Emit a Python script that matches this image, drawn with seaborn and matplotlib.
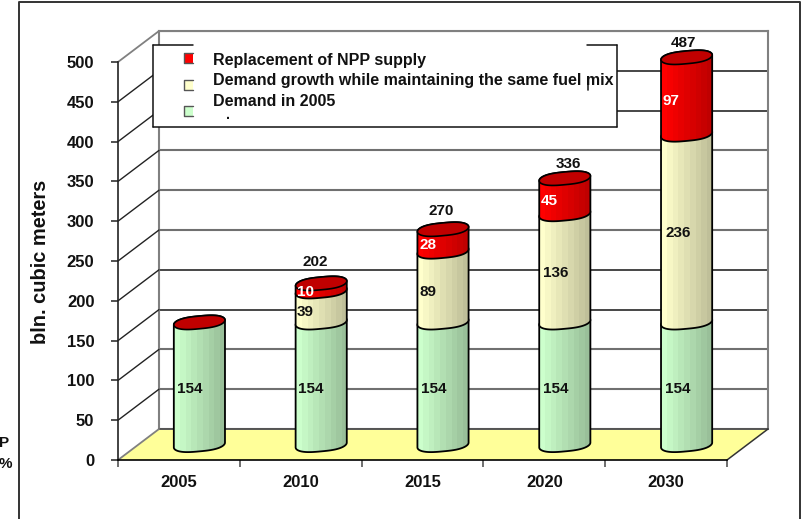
# Gas demand chart: fake 3D stacked cylinders on a seaborn barplot

import numpy as np
import pandas as pd
import matplotlib
matplotlib.use("Agg")
import matplotlib.pyplot as plt
import seaborn as sns
from matplotlib.lines import Line2D
from matplotlib.patches import Polygon, Rectangle

# -----------------------------------------
# Data
# -----------------------------------------
years = ["2005", "2010", "2015", "2020", "2030"]
demand_2005 = [154, 154, 154, 154, 154]
demand_growth = [0, 39, 89, 136, 236]
npp_replacement = [0, 10, 28, 45, 97]
total_labels = ["", "202", "270", "336", "487"]
y_ticks = [0, 50, 100, 150, 200, 250, 300, 350, 400, 450, 500]
legend_names = ["Replacement of NPP supply",
                "Demand growth while maintaining the same fuel mix",
                "Demand in 2005"]

W, H = 802, 519
sns.set_theme(style="white")
plt.rcParams["font.family"] = ["Liberation Sans", "DejaVu Sans"]

fig = plt.figure(figsize=(W / 100, H / 100), dpi=100)


def fx(x):
    return x / W


def fy(y):
    return 1 - y / H


# front plane of the box in pixels
LEFT, RIGHT, BASE, TOP = 118, 727, 460, 62
DEPTH_X, DEPTH_Y = 41, 31
BAR_X, BAR_Y = 20.5, 15
pos = [fx(LEFT), fy(BASE), (RIGHT - LEFT) / W, (BASE - TOP) / H]

# -----------------------------------------
# Back wall, front axis and the bar axes
# -----------------------------------------
wall = fig.add_axes([pos[0] + DEPTH_X / W, pos[1] + DEPTH_Y / H, pos[2], pos[3]], zorder=0)
ax = fig.add_axes(pos, zorder=2)
bars = fig.add_axes([pos[0] + BAR_X / W, pos[1] + BAR_Y / H, pos[2], pos[3]], zorder=4)

for a in (wall, ax, bars):
    a.patch.set_alpha(0)
    a.set_xlim(-0.5, 4.5)
    a.set_ylim(0, 500)

wall.set_xticks([])
wall.set_yticks(y_ticks)
wall.set_yticklabels([])
wall.tick_params(length=0)
wall.grid(axis="y")
# the scan of the original leaves some grid lines grey and some black
grey_lines = [0, 50, 100, 250, 300, 350, 500]
for v, line in zip(y_ticks, wall.yaxis.get_gridlines()):
    if v in grey_lines:
        line.set_color("#707070")
        line.set_linewidth(1.5)
    else:
        line.set_color("#151515")
        line.set_linewidth(1.1)
for side in wall.spines:
    wall.spines[side].set_color("#808080")
    wall.spines[side].set_linewidth(1.5)
wall.spines["bottom"].set_visible(False)

ax.set_yticks(y_ticks)
ax.set_xticks(np.arange(-0.5, 5, 1))
ax.set_xticklabels([])
ax.set_xticks(range(5), years, minor=True, fontsize=12, fontweight="bold", color="#111111")
ax.tick_params(axis="x", which="major", length=5, width=1.2, color="#555555", bottom=True)
ax.tick_params(axis="x", which="minor", length=0, pad=11, bottom=False)
ax.tick_params(axis="y", length=5, width=1.2, color="#333333", left=True, pad=12,
               labelsize=12, labelcolor="#111111")
for label in ax.get_yticklabels():
    label.set_fontweight("bold")
ax.spines["top"].set_visible(False)
ax.spines["right"].set_visible(False)
ax.spines["left"].set_color("#222222")
ax.spines["bottom"].set_color("black")
ax.spines["left"].set_linewidth(1.2)
ax.spines["bottom"].set_linewidth(1.2)
ax.set_ylabel("bln. cubic meters", fontsize=14.4, fontweight="bold", color="#111111")
ax.yaxis.set_label_coords((50 - LEFT) / (RIGHT - LEFT), (BASE - 262) / (BASE - TOP))

# floor
floor = Polygon([(fx(LEFT), fy(BASE)), (fx(RIGHT), fy(BASE)),
                 (fx(RIGHT + DEPTH_X), fy(BASE - DEPTH_Y)), (fx(LEFT + DEPTH_X), fy(BASE - DEPTH_Y))],
                closed=True, transform=fig.transFigure, facecolor="#FFFF99", edgecolor="none", zorder=1)
fig.add_artist(floor)
fig.add_artist(Line2D([fx(LEFT + DEPTH_X), fx(RIGHT + DEPTH_X)], [fy(BASE - DEPTH_Y)] * 2,
                      color="#555555", lw=1.4, zorder=1))
fig.add_artist(Line2D([fx(RIGHT), fx(RIGHT + DEPTH_X)], [fy(BASE), fy(BASE - DEPTH_Y)],
                      color="#333333", lw=1.1, zorder=1))

# diagonals on the left side wall
for v in y_ticks:
    y_px = BASE - (BASE - TOP) * v / 500
    top_tick = v == y_ticks[-1] or v == 0
    fig.add_artist(Line2D([fx(LEFT), fx(LEFT + DEPTH_X)], [fy(y_px), fy(y_px - DEPTH_Y)],
                          color="#808080" if top_tick else "#222222", lw=1.3 if top_tick else 1, zorder=1))

# -----------------------------------------
# Stacked bars, drawn by seaborn and then dressed as cylinders
# -----------------------------------------
df = pd.DataFrame({"year": years, "green": demand_2005, "yellow": demand_growth, "red": npp_replacement})
base_colors = {"green": (0.8, 1.0, 0.8), "yellow": (1.0, 1.0, 0.8), "red": (1.0, 0.0, 0.0)}

bottoms = np.zeros(5)
shade = np.linspace(1, 0.75, 9)[:, None]
t = np.linspace(0, 2 * np.pi, 241)
SQUARE = 0.7
B, S = 8.0, 3.0  # ellipse half height and tilt in data units
z = 10
tops = np.array(demand_2005) + np.array(demand_growth) + np.array(npp_replacement)


def ring(cx, cy, half, angles):
    c = np.cos(angles)
    ux = np.sign(c) * np.abs(c) ** SQUARE
    return cx + half * ux, cy + B * np.sin(angles) + S * ux


for name in ["green", "yellow", "red"]:
    sns.barplot(data=df, x="year", y=name, bottom=bottoms, order=years, color=base_colors[name],
                width=0.42, ax=bars, errorbar=None)
    for rect in bars.containers[-1]:
        rect.set_visible(False)
        if rect.get_height() == 0:
            continue
        half = rect.get_width() / 2
        cx = rect.get_x() + half
        y0, y1 = rect.get_y(), rect.get_y() + rect.get_height()
        # lower front edge, then upper back edge
        low_x, low_y = ring(cx, y0, half, np.linspace(np.pi, 2 * np.pi, 121))
        up_x, up_y = ring(cx, y1, half, np.linspace(0, np.pi, 121))
        body = np.column_stack([np.r_[low_x, up_x], np.r_[low_y, up_y]])
        colors = np.array(base_colors[name])[None, :] * shade
        im = bars.imshow(colors[None, :, :], extent=(cx - half, cx + half, y0 - 20, y1 + 20),
                         aspect="auto", interpolation="nearest", zorder=z)
        poly = Polygon(body, closed=True, facecolor="none", edgecolor="black", lw=1.3, zorder=z + 1,
                       clip_on=False)
        bars.add_patch(poly)
        im.set_clip_path(poly)
        im.set_clip_box(fig.bbox)
        z += 2

    bottoms = bottoms + df[name].to_numpy()

# red lid on top of every stack
for i, total in enumerate(tops):
    half = 0.21
    cap_x, cap_y = ring(i, total, half, t)
    bars.fill(cap_x, cap_y, facecolor="#C00000", edgecolor="black", lw=1.2, zorder=60, clip_on=False)

bars.set_xlim(-0.5, 4.5)
bars.set_ylim(0, 500)
bars.axis("off")

# -----------------------------------------
# Value labels, nudged in pixels like the hand placed originals
# -----------------------------------------
green_dx = [-10, -10, -9, -9, -8.5]
yellow_dx = [0, -16, -15, -9, -8.5]
red_dx = [0, -16, -15, -16, -15.5]
total_dx = [0, -5.5, -2, 4, -3.5]
total_dy = [0, 21, 18, 14, 14]

for i in range(5):
    base = demand_2005[i]
    grow = demand_growth[i]
    red = npp_replacement[i]
    font = dict(fontsize=11, fontweight="bold", ha="center", va="center", zorder=70,
                xycoords="data", textcoords="offset pixels", annotation_clip=False)
    bars.annotate(str(base), (i, base / 2), xytext=(green_dx[i], -5), color="#111111", **font)
    if grow:
        bars.annotate(str(grow), (i, base + grow / 2), xytext=(yellow_dx[i], -5), color="#111111", **font)
    if red:
        bars.annotate(str(red), (i, base + grow + red / 2), xytext=(red_dx[i], -5), color="white", **font)
    if total_labels[i]:
        bars.annotate(total_labels[i], (i, tops[i]), xytext=(total_dx[i], total_dy[i]), color="#111111", **font)

# -----------------------------------------
# Legend box: the top edge is broken in the middle, so it is drawn by hand
# -----------------------------------------
BOX_L, BOX_R, BOX_T, BOX_B = 153, 617, 45, 127
fig.add_artist(Rectangle((fx(BOX_L), fy(BOX_B)), (BOX_R - BOX_L) / W, (BOX_B - BOX_T) / H,
                         transform=fig.transFigure, facecolor="white", edgecolor="none", zorder=3))
for xs, ys in [((BOX_L, BOX_L), (BOX_T, BOX_B)), ((BOX_L, BOX_R), (BOX_B, BOX_B)),
               ((BOX_R, BOX_R), (BOX_T, BOX_B)), ((BOX_L, 193), (BOX_T, BOX_T)),
               ((587, BOX_R), (BOX_T, BOX_T))]:
    fig.add_artist(Line2D([fx(x) for x in xs], [fy(y) for y in ys], color="#111111", lw=1.1, zorder=3))

for name, text_y, box_y, color in zip(legend_names, [61, 81, 101], [53, 80, 106],
                                      ["#FF0000", "#FFFFCC", "#CCFFCC"]):
    fig.text(fx(213), fy(text_y), name, fontsize=11.5, fontweight="bold", color="#111111",
             va="center", ha="left", zorder=5)
    fig.add_artist(Rectangle((fx(184), fy(box_y + 10)), 9 / W, 10 / H, transform=fig.transFigure,
                             facecolor=color, edgecolor="none", zorder=4))
    fig.add_artist(Line2D([fx(193), fx(184), fx(184), fx(193)],
                          [fy(box_y), fy(box_y), fy(box_y + 10), fy(box_y + 10)],
                          color="#555555", lw=1, zorder=4))
fig.text(fx(228), fy(115), ".", fontsize=10, fontweight="bold", color="#111111", ha="center", va="center", zorder=5)
# small tail under the m of "mix" in the original
fig.add_artist(Line2D([fx(588), fx(588)], [fy(85), fy(90)], color="#222222", lw=1.2, zorder=5))

# -----------------------------------------
# Outer frame and the cut off text on the left
# -----------------------------------------
fig.add_artist(Line2D([fx(19), fx(19), fx(800), fx(800)], [0, fy(2), fy(2), 0], color="#333333", lw=1.4, zorder=6))
fig.text(fx(9.5), fy(443), "P", fontsize=11, fontweight="bold", color="#111111", ha="right", va="center")
fig.text(fx(12), fy(464), "%", fontsize=11, fontweight="bold", color="#111111", ha="right", va="center")

fig.savefig("out.png", dpi=100, facecolor="white")
